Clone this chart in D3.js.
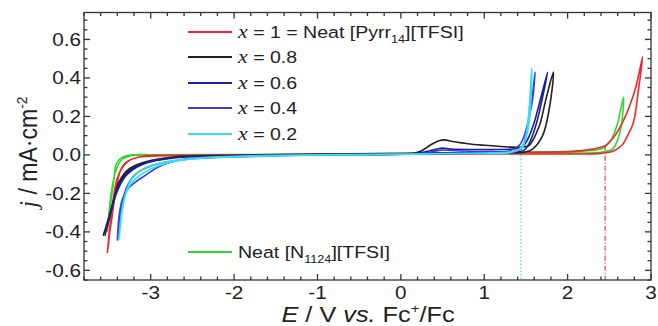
<!DOCTYPE html>
<html><head><meta charset="utf-8">
<script src="https://cdn.jsdelivr.net/npm/d3@7"></script>
<style>
body{margin:0;background:#fff;}
svg text{font-family:"Liberation Sans",Arial,sans-serif;fill:#222;}
</style></head>
<body><svg id="c" width="658" height="326"></svg>
<script>
// ---- data (E in V vs Fc+/Fc, j in mA/cm2) ----
const redE = [-3.52,-3.49,-3.46,-3.42,-3.36,-3.26,-3.10,-2.8,-2.0,-1.0,0.0,1.0,1.6,2.0,2.4,2.55,2.65,2.72,2.79,2.85,2.90,2.81,2.66,2.55,2.45,2.30,2.0,1.5,1.0,0.0,-1.0,-2.0,-2.8,-3.15,-3.30,-3.40,-3.47,-3.52];
const redJ = [-0.51,-0.40,-0.31,-0.19,-0.08,-0.03,-0.007,-0.002,0.0,0.002,0.004,0.005,0.005,0.005,0.008,0.02,0.05,0.10,0.17,0.34,0.51,0.34,0.17,0.09,0.048,0.03,0.017,0.014,0.012,0.008,0.004,0.0,-0.004,-0.012,-0.04,-0.12,-0.30,-0.51];
const greenE = [-3.52,-3.48,-3.44,-3.42,-3.38,-3.34,-3.22,-3.0,-2.0,-1.0,0.0,1.0,1.6,2.0,2.3,2.46,2.54,2.63,2.67,2.59,2.51,2.42,2.2,1.8,1.0,0.0,-1.0,-2.0,-3.0,-3.25,-3.36,-3.43,-3.48,-3.52];
const greenJ = [-0.40,-0.25,-0.124,-0.055,-0.025,-0.012,0.0,0.001,0.002,0.003,0.005,0.008,0.009,0.009,0.011,0.018,0.03,0.12,0.30,0.15,0.07,0.035,0.02,0.015,0.012,0.008,0.004,0.002,0.0,-0.006,-0.03,-0.10,-0.22,-0.40];
const blackE = [-3.57,-3.52,-3.46,-3.38,-3.26,-3.06,-2.7,-2.2,-1.5,-1.0,0.0,0.15,0.25,0.35,0.45,0.52,0.62,0.8,1.0,1.2,1.38,1.48,1.54,1.66,1.74,1.83,1.78,1.70,1.58,1.48,1.2,0.8,0.3,0.0,-1.0,-2.0,-2.7,-3.1,-3.3,-3.42,-3.50,-3.57];
const blackJ = [-0.42,-0.35,-0.26,-0.14,-0.073,-0.036,-0.01,-0.004,0.0,0.002,0.005,0.008,0.022,0.05,0.072,0.078,0.07,0.058,0.05,0.044,0.04,0.042,0.05,0.15,0.29,0.43,0.24,0.10,0.03,0.014,0.012,0.01,0.008,0.006,0.003,-0.002,-0.012,-0.045,-0.10,-0.20,-0.32,-0.42];
const navyE = [-3.55,-3.50,-3.44,-3.37,-3.26,-3.05,-2.7,-2.2,-1.5,-1.0,0.0,0.2,0.35,0.48,0.6,0.9,1.2,1.38,1.45,1.52,1.60,1.68,1.76,1.70,1.63,1.55,1.48,1.3,0.8,0.3,0.0,-1.0,-2.0,-2.7,-3.1,-3.3,-3.42,-3.49,-3.55];
const navyJ = [-0.42,-0.34,-0.24,-0.15,-0.085,-0.04,-0.014,-0.006,-0.002,0.0,0.004,0.008,0.022,0.035,0.03,0.028,0.028,0.032,0.04,0.08,0.17,0.30,0.43,0.30,0.17,0.07,0.025,0.012,0.01,0.008,0.006,0.002,-0.004,-0.015,-0.05,-0.11,-0.21,-0.32,-0.42];
const blueE = [-3.40,-3.38,-3.34,-3.28,-3.18,-3.06,-2.92,-2.71,-2.52,-2.2,-1.6,-1.2,0.0,0.3,0.48,0.7,1.0,1.3,1.42,1.48,1.54,1.58,1.61,1.56,1.50,1.44,1.2,0.8,0.0,-1.0,-1.8,-2.5,-2.9,-3.15,-3.28,-3.35,-3.40];
const blueJ = [-0.445,-0.32,-0.23,-0.18,-0.14,-0.105,-0.065,-0.032,-0.018,-0.012,-0.006,0.0,0.004,0.01,0.025,0.02,0.018,0.02,0.05,0.10,0.20,0.29,0.43,0.25,0.10,0.03,0.012,0.008,0.004,0.0,-0.006,-0.02,-0.045,-0.09,-0.16,-0.28,-0.445];
const cyanE = [-3.38,-3.35,-3.30,-3.22,-3.0,-2.76,-2.47,-2.1,-1.6,-1.2,0.0,0.5,1.0,1.3,1.40,1.46,1.52,1.56,1.57,1.54,1.50,1.45,1.3,0.8,0.0,-1.0,-1.8,-2.4,-2.8,-3.1,-3.25,-3.33,-3.38];
const cyanJ = [-0.44,-0.30,-0.20,-0.14,-0.073,-0.038,-0.02,-0.012,-0.006,-0.002,0.002,0.006,0.01,0.015,0.025,0.05,0.12,0.29,0.45,0.25,0.10,0.035,0.012,0.008,0.004,0.0,-0.005,-0.015,-0.035,-0.075,-0.14,-0.26,-0.44];
const seriesNames = ["x = 1 = Neat [Pyrr14][TFSI]","x = 0.8","x = 0.6","x = 0.4","x = 0.2","Neat [N1124][TFSI]"];
const xTicks = [-3,-2,-1,0,1,2,3];
const yTicks = [-0.6,-0.4,-0.2,0.0,0.2,0.4,0.6];
const cyanLimitE = 1.44, cyanLimitJ = 0.0;
const redLimitE = 2.45, redLimitJ = 0.048;

// ---- layout ----
const svg = d3.select("#c");
const L=84, T=12.5, R=651, B=280;
const SX = 1.15; // horizontal text stretch seen in the reference
const x = d3.scaleLinear().domain([-3.8,3]).range([L,R]);
const y = d3.scaleLinear().domain([-0.65,0.74]).range([B,T]);

const curves = [
  {E:greenE,J:greenJ,color:"#2ed82e"},
  {E:redE,J:redJ,color:"#f02828"},
  {E:blackE,J:blackJ,color:"#222222"},
  {E:navyE,J:navyJ,color:"#1e1e96"},
  {E:blueE,J:blueJ,color:"#3a3ae6"},
  {E:cyanE,J:cyanJ,color:"#30e0f0"}
];
const line = d3.line().x(d=>x(d[0])).y(d=>y(d[1])).curve(d3.curveCatmullRom.alpha(0.5));
svg.append("defs").append("clipPath").attr("id","clip").append("rect").attr("x",L).attr("y",T).attr("width",R-L).attr("height",B-T);
const pg = svg.append("g").attr("clip-path","url(#clip)");
curves.forEach(c=>{
  pg.append("path").attr("d",line(c.E.map((e,i)=>[e,c.J[i]])))
    .attr("fill","none").attr("stroke",c.color).attr("stroke-width",1.6).attr("stroke-linejoin","round");
});
// limit lines
pg.append("line").attr("x1",x(cyanLimitE)).attr("x2",x(cyanLimitE)).attr("y1",y(cyanLimitJ)).attr("y2",B)
  .attr("stroke","#40e8f0").attr("stroke-width",1.3).attr("stroke-dasharray","1.5,2");
pg.append("line").attr("x1",x(redLimitE)).attr("x2",x(redLimitE)).attr("y1",y(redLimitJ)).attr("y2",B)
  .attr("stroke","#f03030").attr("stroke-width",1.1).attr("stroke-dasharray","5,2,1,2");

// ---- axes (ticks inward, all four sides) ----
const ax = svg.append("g").attr("stroke","#333").attr("stroke-width",1.3);
ax.append("rect").attr("x",L).attr("y",T).attr("width",R-L).attr("height",B-T).attr("fill","none");
const xMinor = d3.range(-3.8,3.001,0.2);
const yMinor = d3.range(-0.65,0.7401,0.05);
xMinor.forEach(v=>{
  const px=x(v), major = xTicks.some(t=>Math.abs(t-v)<1e-6);
  const len = major?6:3.5;
  ax.append("line").attr("x1",px).attr("x2",px).attr("y1",B).attr("y2",B-len);
  ax.append("line").attr("x1",px).attr("x2",px).attr("y1",T).attr("y2",T+len);
});
yMinor.forEach(v=>{
  const py=y(v), major = yTicks.some(t=>Math.abs(t-v)<1e-6);
  const len = major?6:3.5;
  ax.append("line").attr("y1",py).attr("y2",py).attr("x1",L).attr("x2",L+len);
  ax.append("line").attr("y1",py).attr("y2",py).attr("x1",R).attr("x2",R-len);
});
function stretched(px,py){
  return svg.append("text").attr("transform",`translate(${px},${py}) scale(${SX},1)`);
}
xTicks.forEach(t=>{
  stretched(x(t),299).attr("text-anchor","middle").attr("font-size",18).text(t<0?"-"+Math.abs(t):String(t));
});
yTicks.forEach(t=>{
  stretched(L-3,y(t)+6.5).attr("text-anchor","end").attr("font-size",18)
    .text(t<0?"-"+Math.abs(t).toFixed(1):t.toFixed(1));
});

// ---- axis titles ----
const xt = stretched(368,322).attr("text-anchor","middle").attr("font-size",22);
xt.append("tspan").attr("font-style","italic").text("E");
xt.append("tspan").text(" / V ");
xt.append("tspan").attr("font-style","italic").text("vs.");
xt.append("tspan").text(" Fc");
xt.append("tspan").attr("dy",-9).attr("font-size",13).text("+");
xt.append("tspan").attr("dy",9).text("/Fc");

const yt = svg.append("text").attr("transform",`translate(37,152) rotate(-90) scale(1.05,${SX})`).attr("text-anchor","middle").attr("font-size",22);
yt.append("tspan").attr("font-style","italic").attr("font-family","Liberation Serif").text("j");
yt.append("tspan").text(" / mA·cm");
yt.append("tspan").attr("dy",-9).attr("font-size",13).text("-2");

// ---- legend ----
const legColors = ["#f02828","#222222","#1e1e96","#3a3ae6","#30e0f0","#2ed82e"];
const legY = [32,57,83,108,134,252];
legY.forEach((ly,i)=>{
  svg.append("line").attr("x1",188).attr("x2",232).attr("y1",ly).attr("y2",ly).attr("stroke",legColors[i]).attr("stroke-width",2);
  const t = stretched(238,ly+6).attr("font-size",17);
  const name = seriesNames[i];
  if(name.startsWith("x")){
    t.append("tspan").attr("font-family","Liberation Serif").attr("font-style","italic").attr("font-size",19).text("x");
    const rest = name.slice(1);
    if(rest.includes("Pyrr14")){
      const parts = rest.split("14");
      t.append("tspan").text(parts[0].replace("= 1 =","= 1  ="));
      t.append("tspan").attr("dy",5).attr("font-size",11).text("14");
      t.append("tspan").attr("dy",-5).text(parts[1]);
    } else t.append("tspan").text(rest);
  } else {
    const parts = name.split("1124");
    t.append("tspan").text(parts[0]);
    t.append("tspan").attr("dy",5).attr("font-size",11).text("1124");
    t.append("tspan").attr("dy",-5).text(parts[1]);
  }
});
</script></body></html>
